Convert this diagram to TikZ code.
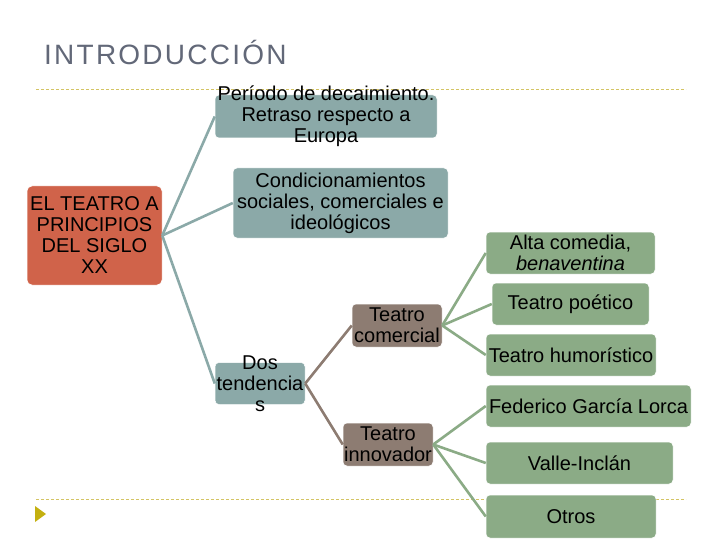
\documentclass[tikz,border=0pt]{standalone}
\usepackage{fontspec}
\setmainfont{Liberation Sans}
\newfontfamily\titlefont[LetterSpace=8]{Liberation Sans}
\usepackage{xcolor}
\usepackage{tikz}
\usetikzlibrary{shapes,arrows.meta,positioning}

\definecolor{titlegray}{RGB}{98,104,120}
\definecolor{dashyellow}{RGB}{212,196,100}
\definecolor{markolive}{RGB}{196,176,16}
\definecolor{rootred}{RGB}{208,99,74}
\definecolor{tealgray}{RGB}{139,169,168}
\definecolor{brownish}{RGB}{141,124,114}
\definecolor{sagegreen}{RGB}{139,171,134}

\begin{document}
\begin{tikzpicture}[
    x=1pt, y=-1pt,
    txt/.style={align=center, inner sep=0pt, font=\fontsize{20}{21}\selectfont},
    rootbox/.style={rectangle, fill=rootred, draw=white, line width=0.5pt, rounded corners=5pt, inner sep=0pt},
    topicbox/.style={rectangle, fill=tealgray, draw=white, line width=0.5pt, rounded corners=4pt, inner sep=0pt},
    trendbox/.style={rectangle, fill=brownish, draw=white, line width=0.5pt, rounded corners=4pt, inner sep=0pt},
    leafbox/.style={rectangle, fill=sagegreen, draw=white, line width=0.5pt, rounded corners=4pt, inner sep=0pt, minimum height=42pt},
    branch/.style={line width=2.6pt, draw=#1},
    rule/.style={draw=dashyellow, line width=1pt, dash pattern=on 3pt off 2pt},
]
    \useasboundingbox (0,0) rectangle (720,540);

    % title and slide rules
    \node[anchor=base west, inner sep=0pt, text=titlegray, font=\titlefont\fontsize{28}{30}\selectfont] (title) at (44,65) {INTRODUCCIÓN};
    \coordinate (ruleAL) at (36,90);
    \coordinate (ruleAR) at (686,90);
    \coordinate (ruleBL) at (36,499);
    \coordinate (ruleBR) at (686,499);
    \draw[rule] (ruleAL) -- (ruleAR);
    \draw[rule] (ruleBL) -- (ruleBR);
    \fill[markolive] (35,506) -- (46,514) -- (35,522) -- cycle;

    % boxes
    \node[rootbox, minimum width=135pt, minimum height=99pt, label={[txt]center:EL TEATRO A\\PRINCIPIOS\\DEL SIGLO\\XX}] (root) at (94.5,235.5) {};
    \node[topicbox, minimum width=222pt, minimum height=43pt, label={[txt]center:Período de decaimiento.\\Retraso respecto a\\Europa}] (decay) at (326,116.5) {};
    \node[topicbox, minimum width=215pt, minimum height=70pt, label={[txt]center:Condicionamientos\\sociales, comerciales e\\ideológicos}] (cond) at (340.5,203) {};
    \node[topicbox, minimum width=90pt, minimum height=42pt, label={[txt]center:Dos\\tendencia\\s}] (dos) at (260,383.5) {};
    \node[trendbox, minimum width=90pt, minimum height=43pt, label={[txt]center:Teatro\\comercial}] (comercial) at (397,325.5) {};
    \node[trendbox, minimum width=90pt, minimum height=43pt, label={[txt]center:Teatro\\innovador}] (innovador) at (388,444.5) {};

    \node[leafbox, minimum width=169pt, label={[txt]center:Alta comedia,\\\textit{benaventina}}] (alta) at (570.5,253) {};
    \node[leafbox, minimum width=157pt, label={[txt]center:Teatro poético}] (poetico) at (570.5,304) {};
    \node[leafbox, minimum width=170pt, label={[txt]center:Teatro humorístico}] (humor) at (571,355) {};
    \node[leafbox, minimum width=205pt, label={[txt]center:Federico García Lorca}] (lorca) at (588.5,406) {};
    \node[leafbox, minimum width=187pt, label={[txt]center:Valle-Inclán}] (valle) at (579.5,463) {};
    \node[leafbox, minimum width=170pt, minimum height=43pt, label={[txt]center:Otros}] (otros) at (571,516.5) {};

    % connectors
    \foreach \child in {decay, cond, dos}
        \draw[branch=tealgray] (root.east) -- (\child.west);
    \foreach \child in {comercial, innovador}
        \draw[branch=brownish] (dos.east) -- (\child.west);
    \foreach \child in {alta, poetico, humor}
        \draw[branch=sagegreen] (comercial.east) -- (\child.west);
    \foreach \child in {lorca, valle, otros}
        \draw[branch=sagegreen] (innovador.east) -- (\child.west);
\end{tikzpicture}
\end{document}
